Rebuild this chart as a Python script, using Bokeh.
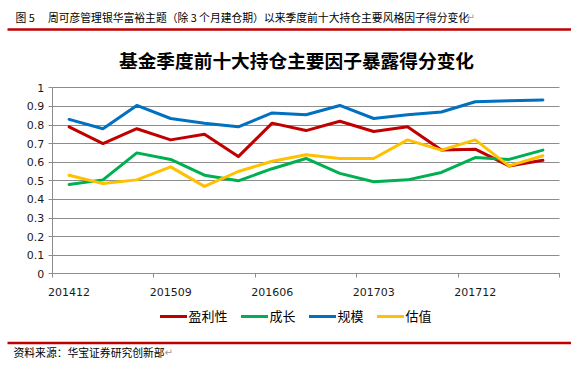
from bokeh.plotting import figure
from bokeh.models import (FixedTicker, NumeralTickFormatter, Range1d, Label,
                          Legend, Grid)
from bokeh.embed import file_html
from bokeh.resources import INLINE

# ---------------- data ----------------
quarters = ["201412", "201503", "201506", "201509", "201512", "201603",
            "201606", "201609", "201612", "201703", "201706", "201709",
            "201712", "201803", "201806"]
profitability = [0.79, 0.70, 0.78, 0.72, 0.75, 0.63, 0.81, 0.77, 0.82,
                 0.765, 0.79, 0.665, 0.67, 0.58, 0.61]
growth = [0.48, 0.505, 0.65, 0.615, 0.53, 0.50, 0.565, 0.62, 0.54,
          0.495, 0.505, 0.545, 0.625, 0.615, 0.665]
size = [0.83, 0.78, 0.905, 0.835, 0.81, 0.79, 0.865, 0.855, 0.905,
        0.835, 0.855, 0.87, 0.925, 0.93, 0.935]
valuation = [0.53, 0.485, 0.505, 0.575, 0.47, 0.55, 0.605, 0.64, 0.62,
             0.62, 0.72, 0.665, 0.72, 0.58, 0.635]
series_names = ["盈利性", "成长", "规模", "估值"]
series_colors = ["#C00000", "#00B050", "#0070C0", "#FFC000"]
label_every = 3
y_ticks = [0, 0.1, 0.2, 0.3, 0.4, 0.5, 0.6, 0.7, 0.8, 0.9, 1.0]

header_text = "图 5\u2003 周可彦管理银华富裕主题（除 3 个月建仓期）以来季度前十大持仓主要风格因子得分变化"
chart_title = "基金季度前十大持仓主要因子暴露得分变化"
source_text = "资料来源：华宝证券研究创新部"
para_mark = "↵"

# ---------------- geometry (page pixels) ----------------
W, H = 571, 360
n = len(quarters)
PX_LEFT, PX_RIGHT = 51.7, 559.3     # plot area left/right
PY_ZERO, PY_ONE = 273.3, 87.3        # y=0 and y=1 positions
DX = (PX_RIGHT - PX_LEFT) / n
DY = PY_ZERO - PY_ONE


def X(px):
    return (px - PX_LEFT) / DX - 0.5


def Y(py):
    return (PY_ZERO - py) / DY


CJK = "Noto Sans CJK SC"
RED = "#C00000"
GRID = "#8c8c8c"

p = figure(width=W, height=H, output_backend="svg", toolbar_location=None,
           x_range=Range1d(X(0), X(W)), y_range=Range1d(Y(H), Y(0)),
           min_border=0, min_border_left=0, min_border_right=0,
           min_border_top=0, min_border_bottom=0,
           background_fill_color="white", border_fill_color="white",
           outline_line_color=None)

xs = list(range(n))
renderers = []
for vals, col in zip([profitability, growth, size, valuation], series_colors):
    renderers.append(p.line(xs, vals, line_color=col, line_width=3,
                            line_join="round", line_cap="round"))

# ---- axes fixed inside the canvas ----
major = [i for i in range(0, n, label_every)]
minor = [b - 0.5 for b in range(0, n + 1, label_every)]
xa = p.xaxis[0]
xa.fixed_location = 0
xa.bounds = (-0.5, n - 0.5)
xa.ticker = FixedTicker(ticks=major, minor_ticks=minor)
xa.major_label_overrides = {i: quarters[i] for i in major}
xa.major_tick_out = 0
xa.major_tick_in = 0
xa.minor_tick_out = 4
xa.minor_tick_in = 0
xa.minor_tick_line_color = GRID
xa.axis_line_color = GRID
xa.major_label_standoff = 10
xa.major_label_text_font = "DejaVu Sans"
xa.major_label_text_font_size = "11px"
xa.major_label_text_color = "#1a1a1a"

ya = p.yaxis[0]
ya.fixed_location = -0.5
ya.bounds = (0, 1)
ya.ticker = FixedTicker(ticks=y_ticks)
ya.formatter = NumeralTickFormatter(format="0.[0]")
ya.major_tick_out = 4
ya.major_tick_in = 0
ya.minor_tick_line_color = None
ya.major_tick_line_color = GRID
ya.axis_line_color = GRID
ya.major_label_standoff = 4
ya.major_label_text_font = "DejaVu Sans"
ya.major_label_text_font_size = "11px"
ya.major_label_text_color = "#1a1a1a"

p.xgrid.visible = False
yg = p.ygrid[0]
yg.ticker = FixedTicker(ticks=y_ticks)
yg.grid_line_color = GRID
yg.grid_line_width = 1
yg.bounds = (0, 1)
if "cross_bounds" in Grid.properties():
    yg.cross_bounds = (-0.5, n - 0.5)
else:
    yg.visible = False
    p.segment(x0=[-0.5] * len(y_ticks), y0=y_ticks,
              x1=[n - 0.5] * len(y_ticks), y1=y_ticks,
              line_color=GRID, line_width=1, level="underlay")

# ---- legend ----
legend = Legend(items=[(nm, [r]) for nm, r in zip(series_names, renderers)],
                orientation="horizontal", location=(159.5, H - 325),
                padding=0, margin=0, spacing=13, glyph_width=27,
                glyph_height=14, label_height=14, label_standoff=2,
                label_text_font=CJK, label_text_font_size="13px",
                label_text_color="#000000",
                border_line_color=None, background_fill_alpha=0)
p.add_layout(legend)

# ---- texts and rules ----
def txt(px, py, s, size, font=CJK, align="left", bold=False, color="#000000"):
    p.add_layout(Label(x=X(px), y=Y(py), text=s, text_font=font,
                       text_font_size=size, text_align=align,
                       text_baseline="middle",
                       text_font_style="bold" if bold else "normal",
                       text_color=color))


txt(15, 16.5, header_text, "10.8px")
txt(466, 17, para_mark, "10px", font="DejaVu Sans", color="#9a9a9a")
txt(296, 58.5, chart_title, "18.7px", bold=True, align="center")
txt(13, 351.5, source_text, "10.8px")
txt(164, 352, para_mark, "10px", font="DejaVu Sans", color="#9a9a9a")

p.segment(x0=[X(7), X(7)], y0=[Y(29), Y(342.5)], x1=[X(573), X(573)],
          y1=[Y(29), Y(342.5)], line_color=RED, line_width=2.5)

open("out.html", "w").write(file_html(p, INLINE))
